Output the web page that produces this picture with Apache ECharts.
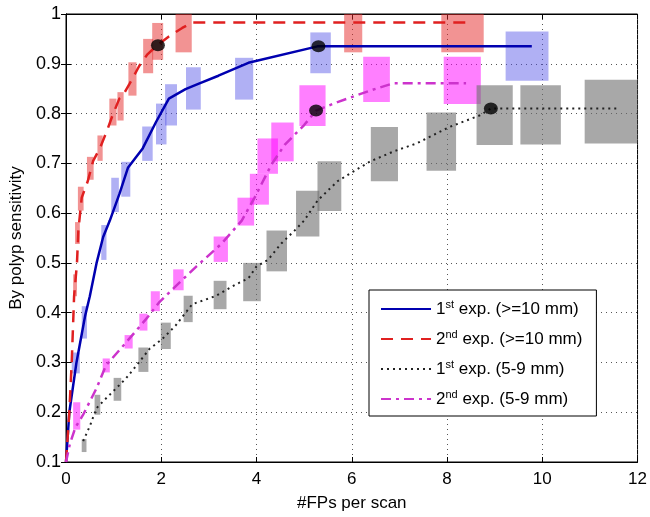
<!DOCTYPE html>
<html><head><meta charset="utf-8">
<script src="https://cdn.jsdelivr.net/npm/echarts@6/dist/echarts.min.js"></script>
<style>html,body{margin:0;padding:0;background:#fff}#c{width:650px;height:517px}</style>
</head><body><div id="c"></div>
<script>
// ---- data ----
var xTicks = [0, 2, 4, 6, 8, 10, 12];
var yTicks = [0.1, 0.2, 0.3, 0.4, 0.5, 0.6, 0.7, 0.8, 0.9, 1];
var seriesNames = ['1st exp. (>=10 mm)', '2nd exp. (>=10 mm)', '1st exp. (5-9 mm)', '2nd exp. (5-9 mm)'];

var blueX = [0, 0.07, 0.22, 0.4, 0.5, 0.64, 0.78, 0.92, 1.12, 1.3, 1.61, 1.89, 2.16, 2.51, 2.79, 3.2, 3.83, 5.28, 9.78];
var blueY = [0.1, 0.2, 0.30, 0.393, 0.433, 0.499, 0.552, 0.585, 0.638, 0.691, 0.73, 0.783, 0.83, 0.849, 0.86, 0.876, 0.902, 0.935, 0.935];

var redX = [0, 0.07, 0.12, 0.17, 0.23, 0.26, 0.33, 0.46, 0.57, 0.71, 0.85, 0.98, 1.12, 1.19, 1.33, 1.54, 1.71, 1.89, 2.16, 2.44, 2.65, 8.5];
var redY = [0.1, 0.2, 0.3, 0.433, 0.499, 0.566, 0.631, 0.665, 0.705, 0.73, 0.763, 0.797, 0.83, 0.836, 0.859, 0.896, 0.919, 0.935, 0.955, 0.972, 0.983, 0.983];

var grayX = [0.36, 0.5, 0.64, 0.78, 0.98, 1.26, 1.54, 1.75, 2.02, 2.3, 2.65, 3.13, 3.55, 3.83, 4.0, 4.24, 4.52, 4.8, 5.0, 5.28, 5.7, 6.04, 6.39, 6.88, 7.36, 8.05, 8.68, 8.92, 11.59];
var grayY = [0.142, 0.172, 0.208, 0.222, 0.241, 0.268, 0.301, 0.327, 0.347, 0.374, 0.417, 0.433, 0.456, 0.469, 0.493, 0.506, 0.539, 0.565, 0.585, 0.625, 0.664, 0.684, 0.704, 0.724, 0.74, 0.773, 0.796, 0.81, 0.81];

var magX = [0, 0.08, 0.2, 0.36, 0.64, 0.84, 1.26, 1.68, 1.95, 2.3, 2.74, 3.27, 3.69, 3.96, 4.31, 4.59, 5.0, 5.25, 5.7, 6.38, 6.88, 8.4];
var magY = [0.1, 0.136, 0.17, 0.195, 0.248, 0.294, 0.34, 0.387, 0.42, 0.453, 0.493, 0.539, 0.585, 0.631, 0.697, 0.737, 0.777, 0.806, 0.823, 0.846, 0.861, 0.861];

// confidence boxes: [x0, x1, y0, y1]
var blueBoxes = [[0.12,0.29,0.278,0.32],[0.33,0.44,0.348,0.413],[0.74,0.85,0.506,0.576],[0.95,1.11,0.602,0.671],[1.16,1.35,0.633,0.703],[1.6,1.82,0.705,0.774],[1.89,2.11,0.738,0.82],[2.08,2.33,0.776,0.859],[2.52,2.83,0.808,0.893],[3.55,3.93,0.828,0.912],[5.13,5.56,0.881,0.963],[9.23,10.13,0.866,0.965]];
var redBoxes = [[0.15,0.23,0.433,0.477],[0.19,0.29,0.538,0.582],[0.25,0.37,0.605,0.653],[0.44,0.58,0.667,0.713],[0.66,0.77,0.705,0.756],[0.91,1.06,0.776,0.83],[1.08,1.21,0.786,0.843],[1.31,1.48,0.836,0.903],[1.62,1.83,0.881,0.95],[1.81,2.04,0.908,0.982],[2.3,2.64,0.923,1.0],[5.84,6.22,0.923,1.0],[7.88,8.77,0.923,1.0]];
var grayBoxes = [[0.33,0.43,0.12,0.146],[0.6,0.72,0.195,0.235],[1.0,1.16,0.223,0.269],[1.52,1.73,0.281,0.33],[1.99,2.2,0.327,0.38],[2.47,2.66,0.381,0.434],[3.1,3.37,0.407,0.464],[3.72,4.09,0.423,0.5],[4.21,4.64,0.483,0.565],[4.83,5.32,0.553,0.645],[5.28,5.78,0.604,0.704],[6.4,6.97,0.664,0.773],[7.57,8.19,0.685,0.802],[8.62,9.38,0.737,0.857],[9.54,10.39,0.738,0.857],[10.89,12.0,0.74,0.868]];
var magBoxes = [[0.15,0.3,0.165,0.22],[0.77,0.92,0.28,0.308],[1.23,1.4,0.328,0.355],[1.54,1.71,0.364,0.398],[1.78,1.97,0.403,0.443],[2.25,2.47,0.445,0.487],[3.1,3.4,0.502,0.553],[3.6,3.95,0.575,0.631],[3.86,4.26,0.617,0.679],[4.02,4.45,0.679,0.75],[4.31,4.78,0.704,0.782],[4.9,5.45,0.775,0.857],[6.24,6.8,0.823,0.914],[7.93,8.71,0.819,0.914]];

var dotX = [1.93, 5.3, 5.25, 8.92];
var dotY = [0.937, 0.935, 0.806, 0.81];

// ---- helpers ----
function zip(a, b) { return a.map(function (v, i) { return [v, b[i]]; }); }
function boxSeries(data, fill) {
  return {
    type: 'custom', z: 1, silent: true,
    encode: { x: [0, 1], y: [2, 3] },
    data: data,
    renderItem: function (params, api) {
      var p0 = api.coord([api.value(0), api.value(3)]);
      var p1 = api.coord([api.value(1), api.value(2)]);
      var shape = echarts.graphic.clipRectByRect(
        { x: p0[0], y: p0[1], width: p1[0] - p0[0], height: p1[1] - p0[1] },
        { x: params.coordSys.x, y: params.coordSys.y, width: params.coordSys.width, height: params.coordSys.height });
      if (!shape) return;
      return { type: 'rect', shape: shape, style: { fill: fill } };
    }
  };
}
function lineSeries(name, x, y, color, type, width) {
  return {
    name: name, type: 'line', z: 3, data: zip(x, y), symbol: 'none', showSymbol: false,
    itemStyle: { color: color },
    lineStyle: { color: color, type: type, width: width, cap: 'butt' }
  };
}
var font = 'Liberation Sans, Arial, sans-serif';
var dotted = { show: true, lineStyle: { color: '#555', type: [1, 4], width: 1 } };

var chart = echarts.init(document.getElementById('c'), null, { renderer: 'canvas' });
chart.setOption({
  animation: false,
  backgroundColor: '#fff',
  grid: { left: 66, right: 6, top: 14, bottom: 49, show: true, borderColor: '#000', borderWidth: 1 },
  xAxis: [{
    type: 'value', min: xTicks[0], max: xTicks[xTicks.length - 1], interval: 2,
    name: '#FPs per scan', nameLocation: 'middle', nameGap: 33,
    nameTextStyle: { fontFamily: font, fontSize: 17, color: '#000' },
    axisLine: { show: true, lineStyle: { color: '#000' } },
    axisTick: { show: true, inside: true, length: 5, lineStyle: { color: '#000' } },
    axisLabel: { fontFamily: font, fontSize: 17, color: '#000', margin: 9 },
    splitLine: dotted
  }, {
    type: 'value', position: 'top', min: xTicks[0], max: xTicks[xTicks.length - 1], interval: 2,
    axisLine: { show: true, lineStyle: { color: '#000' } },
    axisTick: { show: true, inside: true, length: 5, lineStyle: { color: '#000' } },
    axisLabel: { show: false }, splitLine: { show: false }
  }],
  yAxis: [{
    type: 'value', min: yTicks[0], max: yTicks[yTicks.length - 1], interval: 0.1,
    name: 'By polyp sensitivity', nameLocation: 'middle', nameGap: 38,
    nameTextStyle: { fontFamily: font, fontSize: 17, color: '#000' },
    axisLine: { show: true, lineStyle: { color: '#000' } },
    axisTick: { show: true, inside: true, length: 5, lineStyle: { color: '#000' } },
    axisLabel: { fontFamily: font, fontSize: 18, color: '#000', margin: 5,
      formatter: function (v) { return String(Math.round(v * 10) / 10); } },
    splitLine: dotted
  }, {
    type: 'value', position: 'right', min: yTicks[0], max: yTicks[yTicks.length - 1], interval: 0.1,
    axisLine: { show: true, lineStyle: { color: '#000' } },
    axisTick: { show: true, inside: true, length: 5, lineStyle: { color: '#000' } },
    axisLabel: { show: false }, splitLine: { show: false }
  }],
  legend: {
    orient: 'vertical', left: 369, top: 290,
    data: seriesNames,
    backgroundColor: '#fff', borderColor: '#000', borderWidth: 1, borderRadius: 0,
    padding: [9, 14, 7, 11], itemGap: 10, itemWidth: 50, itemHeight: 20,
    itemStyle: { opacity: 0 },
    textStyle: { fontFamily: font, fontSize: 17, color: '#000', lineHeight: 20,
      rich: { s: { fontFamily: font, fontSize: 11, color: '#000', padding: [0, 0, 9, 0] } } },
    formatter: function (name) { return name.replace(/^(\d)(st|nd)/, '$1{s|$2}'); }
  },
  series: [
    boxSeries(redBoxes, 'rgba(230,40,40,0.5)'),
    boxSeries(blueBoxes, 'rgba(80,80,230,0.45)'),
    boxSeries(magBoxes, 'rgba(255,0,255,0.5)'),
    boxSeries(grayBoxes, 'rgba(110,110,110,0.6)'),
    lineSeries(seriesNames[0], blueX, blueY, '#0000b0', 'solid', 2.5),
    lineSeries(seriesNames[1], redX, redY, '#e02020', [12, 8], 2.5),
    lineSeries(seriesNames[2], grayX, grayY, '#222222', [2, 4], 2),
    lineSeries(seriesNames[3], magX, magY, '#cc33cc', [10, 5, 3, 5], 2.5),
    { type: 'scatter', z: 5, symbol: 'circle', symbolSize: [14, 12], data: zip(dotX, dotY),
      itemStyle: { color: '#000' }, silent: true }
  ]
});
</script></body></html>
